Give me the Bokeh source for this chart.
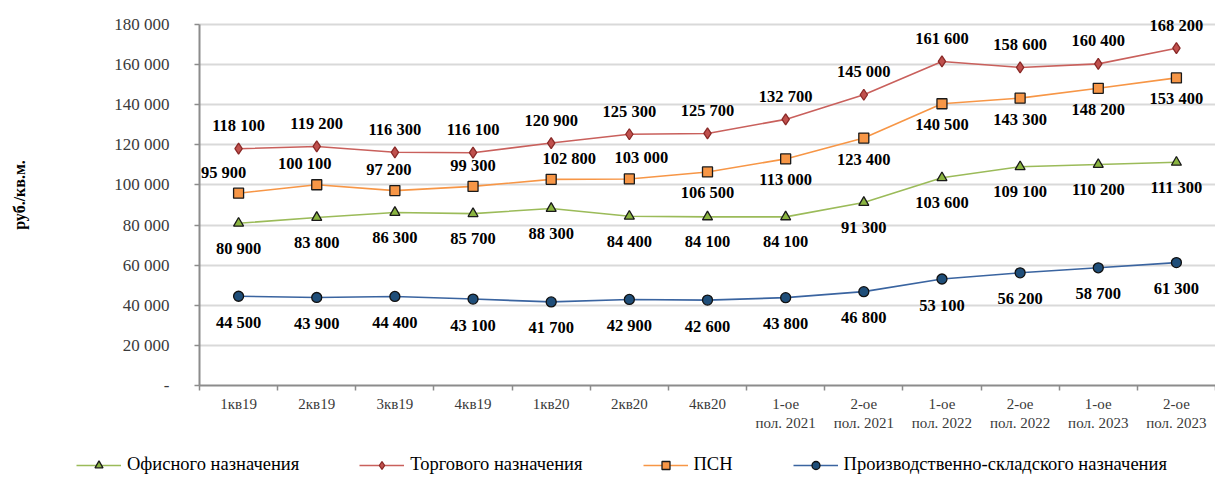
from bokeh.plotting import figure
from bokeh.layouts import column
from bokeh.models import (ColumnDataSource, FactorRange, LinearAxis, FixedTicker,
                          Legend, LegendItem, Range1d)
from bokeh.core.properties import value
from bokeh.embed import file_html
from bokeh.resources import INLINE

# ---------------- data ----------------
categories = ["1кв19", "2кв19", "3кв19", "4кв19", "1кв20", "2кв20", "4кв20",
              "1-ое\nпол. 2021", "2-ое\nпол. 2021", "1-ое\nпол. 2022",
              "2-ое\nпол. 2022", "1-ое\nпол. 2023", "2-ое\nпол. 2023"]
office = [80900, 83800, 86300, 85700, 88300, 84400, 84100, 84100, 91300,
          103600, 109100, 110200, 111300]
retail = [118100, 119200, 116300, 116100, 120900, 125300, 125700, 132700,
          145000, 161600, 158600, 160400, 168200]
psn = [95900, 100100, 97200, 99300, 102800, 103000, 106500, 113000, 123400,
       140500, 143300, 148200, 153400]
industrial = [44500, 43900, 44400, 43100, 41700, 42900, 42600, 43800, 46800,
              53100, 56200, 58700, 61300]
series_names = ["Офисного назначения", "Торгового назначения", "ПСН",
                "Производственно-складского назначения"]
y_ticks = [0, 20000, 40000, 60000, 80000, 100000, 120000, 140000, 160000, 180000]
y_title = "руб./кв.м."

# label placement (layout, not data)
psn_label_side = ["above"] * 6 + ["below"] * 7
psn_label_dx = [-15, -12, -6, 0, 18, 12, 0, 0, 0, 0, 0, 0, 0]

FONT = "Liberation Serif"


def fmt(v):
    return f"{v:,}".replace(",", " ")


# frame extends a little above the top tick so the top labels are not clipped
p = figure(width=1215, height=445,
           x_range=FactorRange(factors=categories),
           y_range=Range1d(0, 190000),
           output_backend="svg", toolbar_location=None,
           x_axis_location=None,
           min_border_left=199, min_border_right=0,
           min_border_top=4, min_border_bottom=60)
p.frame_align = False
p.outline_line_color = None
p.background_fill_color = "white"
p.border_fill_color = "white"

# y axis
ya = p.yaxis[0]
ya.ticker = FixedTicker(ticks=y_ticks)
ya.bounds = (y_ticks[0], y_ticks[-1])
ya.major_label_overrides = {t: ("-" if t == 0 else fmt(t)) for t in y_ticks}
ya.major_label_text_font = FONT
ya.major_label_text_font_size = "17px"
ya.major_label_text_color = "#3a3a3a"
ya.major_label_standoff = 25
ya.major_tick_out = 5
ya.major_tick_in = 0
ya.minor_tick_out = 0
ya.minor_tick_in = 0
ya.axis_line_color = "#8c8c8c"
ya.axis_line_width = 2
ya.major_tick_line_color = "#8c8c8c"
ya.major_tick_line_width = 1.5
ya.axis_label = y_title
ya.axis_label_text_font = FONT
ya.axis_label_text_font_style = "bold"
ya.axis_label_text_font_size = "16px"
ya.axis_label_text_color = "black"
ya.axis_label_standoff = 83

p.ygrid.grid_line_color = "#d9d9d9"
p.ygrid.grid_line_width = 2
p.ygrid.ticker = FixedTicker(ticks=y_ticks)
p.xgrid.visible = False

# x axis: labels at category centres, ticks at category boundaries
n = len(categories)
xa = LinearAxis(
    ticker=FixedTicker(ticks=[i + 0.5 for i in range(n)],
                       minor_ticks=list(range(n + 1))),
    major_label_overrides={i + 0.5: c for i, c in enumerate(categories)},
    major_tick_out=0, major_tick_in=0,
    minor_tick_out=5, minor_tick_in=0,
    minor_tick_line_color="#8c8c8c", minor_tick_line_width=1.5,
    axis_line_color="#8c8c8c", axis_line_width=2,
    major_label_standoff=5,
    major_label_text_font=FONT, major_label_text_font_size="15px",
    major_label_text_color="#3a3a3a",
)
p.add_layout(xa, "below")

# ---------------- series ----------------
specs = [
    (office, "#9bbb59", "triangle", "#8ab440", "#1a1a1a", 10),
    (retail, "#c9605c", "diamond", "#c0504d", "#8a2a28", 11),
    (psn, "#f79646", "square", "#f79646", "#1a1a1a", 10),
    (industrial, "#3a64a0", "circle", "#1f4e79", "#111111", 10),
]

for vals, lc, marker, fc, oc, size in specs:
    src = ColumnDataSource(dict(x=categories, y=vals))
    p.line("x", "y", source=src, line_color=lc, line_width=1.6)
    p.scatter("x", "y", source=src, marker=marker, size=size,
              fill_color=fc, line_color=oc, line_width=1.3)


def add_labels(vals, dy, dx=None):
    src = ColumnDataSource(dict(x=categories, y=vals,
                                text=[fmt(v) for v in vals], dy=dy,
                                dx=dx if dx is not None else [0] * n))
    p.text("x", "y", text="text", source=src, y_offset="dy", x_offset="dx",
           text_font=value(FONT), text_font_style="bold",
           text_font_size="16.5px", text_color="black",
           text_align="center", text_baseline="middle")


add_labels(retail, [-23] * n)
add_labels(psn, [-21 if s == "above" else 21 for s in psn_label_side], psn_label_dx)
add_labels(office, [25] * n)
add_labels(industrial, [26] * n)

# ---------------- legend strip ----------------
lf = figure(width=1215, height=40,
            x_range=FactorRange(factors=categories),
            y_range=Range1d(-2, -1),
            output_backend="svg", toolbar_location=None,
            x_axis_location=None, y_axis_location=None,
            min_border_left=0, min_border_right=0,
            min_border_top=0, min_border_bottom=0)
lf.frame_align = False
lf.outline_line_color = None
lf.grid.visible = False

items = []
for name, (vals, lc, marker, fc, oc, size) in zip(series_names, specs):
    src = ColumnDataSource(dict(x=categories, y=vals))
    lr = lf.line("x", "y", source=src, line_color=lc, line_width=1.6)
    sr = lf.scatter("x", "y", source=src, marker=marker, size=size,
                    fill_color=fc, line_color=oc, line_width=1.3)
    items.append(LegendItem(label=name, renderers=[lr, sr]))

legend = Legend(items=items, orientation="horizontal", location=(76, 10),
                padding=0, margin=0, spacing=60, glyph_width=45,
                glyph_height=20, label_height=20, label_standoff=6,
                border_line_color=None, background_fill_alpha=0,
                label_text_font=FONT, label_text_font_size="18.5px",
                label_text_color="black", label_text_baseline="middle")
lf.add_layout(legend)

layout = column(p, lf, spacing=0)
open("out.html", "w").write(file_html(layout, INLINE))
